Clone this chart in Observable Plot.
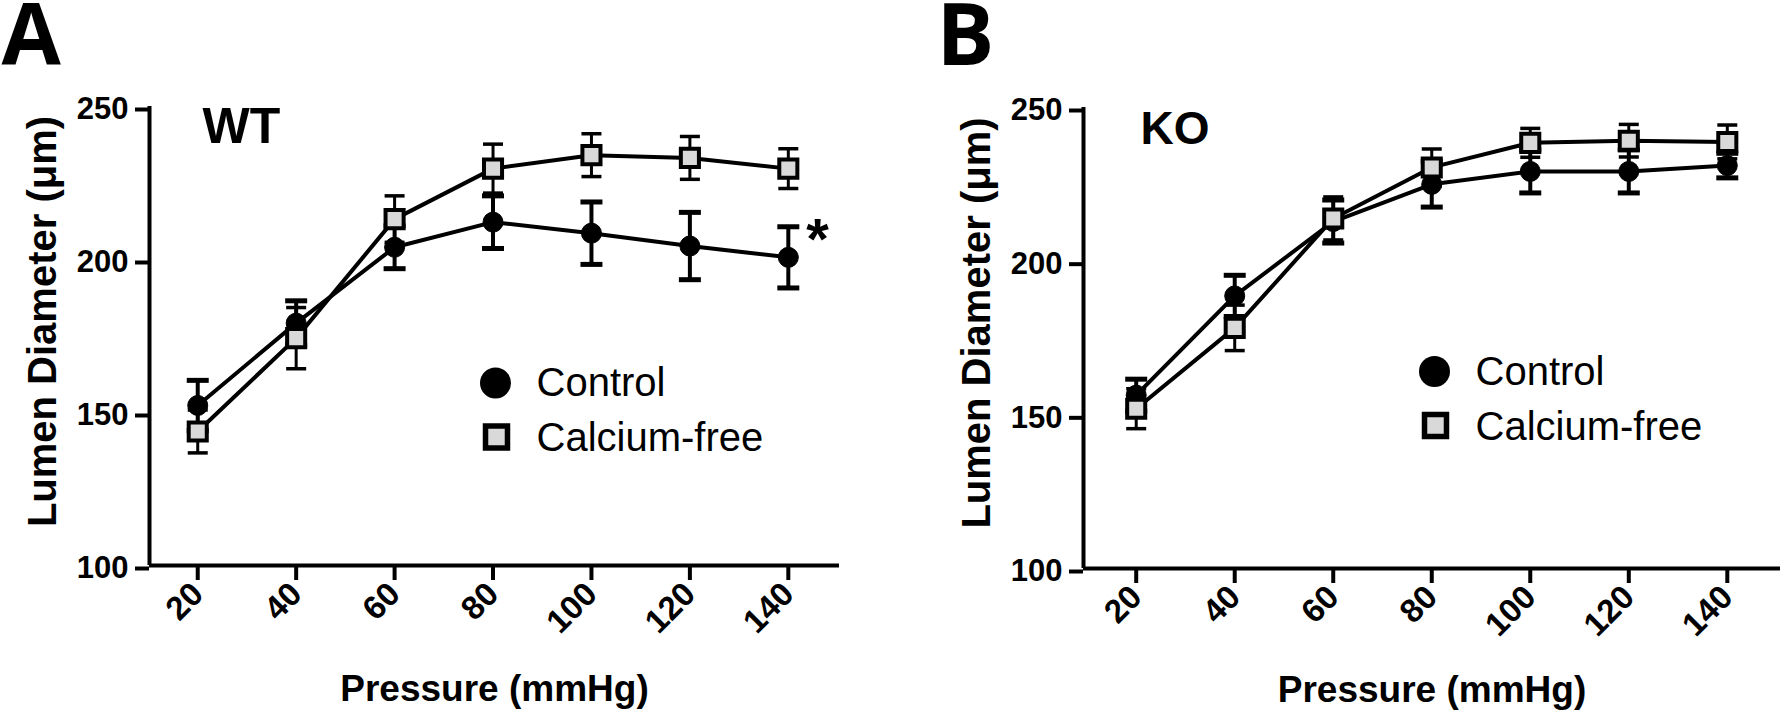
<!DOCTYPE html>
<html>
<head>
<meta charset="utf-8">
<script src="https://cdn.jsdelivr.net/npm/d3@7"></script>
<script src="https://cdn.jsdelivr.net/npm/@observablehq/plot@0.6"></script>
<style>
  html, body { margin: 0; padding: 0; background: #fff; }
  #wrap { position: relative; width: 1782px; height: 711px; overflow: hidden; }
  #wrap svg { position: absolute; top: 0; }
</style>
</head>
<body>
<div id="wrap"></div>
<script>
// ---- data ----
const pressures = [20, 40, 60, 80, 100, 120, 140];
const seriesNames = ["Control", "Calcium-free"];
const wtControl    = [152.3, 179.2, 204.0, 212.2, 208.6, 204.4, 200.7];
const wtControlSem = [8.2, 7.3, 7.0, 8.6, 10.2, 11.0, 10.0];
const wtCaFree     = [143.8, 174.3, 213.2, 229.7, 234.1, 233.2, 229.7];
const wtCaFreeSem  = [7.0, 10.0, 7.6, 8.0, 7.0, 7.0, 6.5];
const koControl    = [156.4, 188.7, 212.9, 225.0, 229.2, 229.2, 231.1];
const koControlSem = [5.2, 6.7, 7.0, 7.4, 7.0, 7.0, 4.0];
const koCaFree     = [152.0, 178.3, 213.9, 230.5, 238.5, 239.2, 238.8];
const koCaFreeSem  = [6.5, 7.4, 7.0, 6.0, 4.7, 5.3, 5.5];
const yTicks = [100, 150, 200, 250];
const xTicks = [20, 40, 60, 80, 100, 120, 140];
const xLabel = "Pressure (mmHg)";
const yLabel = "Lumen Diameter (\u03bcm)";

const font = "'Liberation Sans', Arial, Helvetica, sans-serif";
const capSymbol = {
  draw(ctx, size) {
    const w = Math.sqrt(size / Math.PI);
    ctx.moveTo(-w, 0);
    ctx.lineTo(w, 0);
  }
};

function rows(vals, sems, name) {
  return pressures.map((p, i) => ({p, v: vals[i], s: sems[i], name}));
}
function caps(data) {
  return data.flatMap(d => [{p: d.p, y: d.v - d.s}, {p: d.p, y: d.v + d.s}]);
}

function panel(cfg) {
  const C = rows(cfg.ctrl, cfg.ctrlSem, seriesNames[0]);
  const F = rows(cfg.ca, cfg.caSem, seriesNames[1]);
  const marks = [
    Plot.ruleX([cfg.xDomain[0]], {stroke: "black", strokeWidth: 4}),
    Plot.ruleY([100], {stroke: "black", strokeWidth: 4}),
    Plot.axisY({ticks: yTicks, tickSize: 14, tickPadding: 7, strokeWidth: 4, fontSize: 31, fontWeight: "bold", dy: 3, label: null}),
    Plot.axisX({ticks: xTicks, tickSize: 15, tickPadding: 8, strokeWidth: 4, tickRotate: -45, fontSize: 33, fontWeight: "bold", label: null}),
    Plot.text([xLabel], {frameAnchor: "bottom", dy: cfg.xLabelDy, lineAnchor: "bottom", fontSize: 37, fontWeight: "bold"}),
    Plot.text([yLabel], {frameAnchor: "left", rotate: -90, dx: -94, dy: cfg.yLabelDy, textAnchor: "middle", lineAnchor: "bottom", fontSize: 40, fontWeight: "bold"}),
    Plot.text([cfg.letter], {frameAnchor: "top-left", dx: cfg.letterDx, dy: cfg.letterDy, textAnchor: "start", lineAnchor: "bottom", fontSize: 86, fontWeight: "bold", fontFamily: "'Open Sans', sans-serif"}),
    Plot.text([cfg.genotype], {frameAnchor: "top-left", dx: cfg.genoDx, dy: 36, textAnchor: "start", lineAnchor: "bottom", fontSize: cfg.genoSize, fontWeight: "bold"}),
    // Control series
    Plot.line(C, {x: "p", y: "v", stroke: "black", strokeWidth: 4}),
    Plot.ruleX(C, {x: "p", y1: d => d.v - d.s, y2: d => d.v + d.s, stroke: "black", strokeWidth: 4}),
    Plot.dot(caps(C), {x: "p", y: "y", symbol: capSymbol, r: 11, stroke: "black", strokeWidth: 5, fill: "none"}),
    Plot.dot(C, {x: "p", y: "v", r: 10, fill: "black", stroke: "black", strokeWidth: 1}),
    // Calcium-free series
    Plot.line(F, {x: "p", y: "v", stroke: "black", strokeWidth: 4}),
    Plot.ruleX(F, {x: "p", y1: d => d.v - d.s, y2: d => d.v + d.s, stroke: "black", strokeWidth: 3}),
    Plot.dot(caps(F), {x: "p", y: "y", symbol: capSymbol, r: 10, stroke: "black", strokeWidth: 3.5, fill: "none"}),
    Plot.dot(F, {x: "p", y: "v", symbol: "square", r: 10.2, fill: "#d9d9d9", stroke: "black", strokeWidth: 4}),
    // Legend
    Plot.dot([seriesNames[0]], {frameAnchor: "top-left", dx: cfg.legDx, dy: cfg.legDy, r: 15.5, fill: "black"}),
    Plot.dot([seriesNames[1]], {frameAnchor: "top-left", dx: cfg.legDx + 1, dy: cfg.legDy + 54, symbol: "square", r: 12.4, fill: "#d9d9d9", stroke: "black", strokeWidth: 5.5}),
    Plot.text([seriesNames[0]], {frameAnchor: "top-left", dx: cfg.legDx + 41, dy: cfg.legDy + 13, textAnchor: "start", lineAnchor: "bottom", fontSize: 40}),
    Plot.text([seriesNames[1]], {frameAnchor: "top-left", dx: cfg.legDx + 41, dy: cfg.legDy + 68, textAnchor: "start", lineAnchor: "bottom", fontSize: 40})
  ];
  if (cfg.star) {
    marks.push(Plot.text(["*"], {frameAnchor: "top-left", dx: 668, dy: 152, textAnchor: "middle", lineAnchor: "bottom", fontSize: 58, fontWeight: "bold"}));
  }
  const svg = Plot.plot({
    width: 891,
    height: 711,
    marginLeft: cfg.mL,
    marginRight: cfg.mR,
    marginTop: cfg.mT,
    marginBottom: cfg.mB,
    style: {fontFamily: font, color: "black", background: "transparent", overflow: "visible"},
    x: {type: "linear", domain: cfg.xDomain},
    y: {type: "linear", domain: [100, 250]},
    marks
  });
  svg.style.left = cfg.left + "px";
  return svg;
}

const wrap = document.getElementById("wrap");
wrap.appendChild(panel({
  left: 0, letter: "A", genotype: "WT", genoSize: 50, genoDx: 53,
  ctrl: wtControl, ctrlSem: wtControlSem, ca: wtCaFree, caSem: wtCaFreeSem,
  xDomain: [10.2, 150.4], mL: 149, mR: 52, mT: 106, mB: 146,
  letterDx: -148, letterDy: -42, xLabelDy: 135, yLabelDy: -14.5,
  legDx: 346, legDy: 276.5, star: true
}));
wrap.appendChild(panel({
  left: 891, letter: "B", genotype: "KO", genoSize: 46, genoDx: 57,
  ctrl: koControl, ctrlSem: koControlSem, ca: koCaFree, caSem: koCaFreeSem,
  xDomain: [9.3, 150.8], mL: 192, mR: 2, mT: 107, mB: 143,
  letterDx: -147, letterDy: -43, xLabelDy: 133, yLabelDy: -15,
  legDx: 351, legDy: 264, star: false
}));
</script>
</body>
</html>
